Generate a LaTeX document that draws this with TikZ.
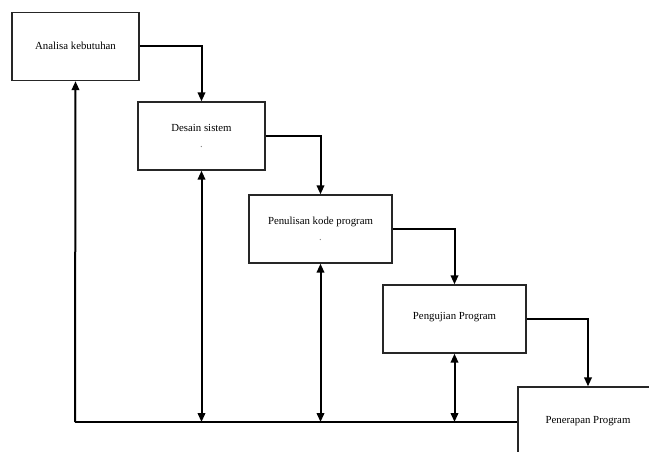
\documentclass[tikz,border=0pt]{standalone}
\usepackage{fontspec}
\setmainfont{Liberation Serif}
\usetikzlibrary{arrows.meta}

\tikzset{
	tahap/.style={draw=black!85, line width=1.3pt, fill=white, minimum width=127pt, minimum height=68pt, inner sep=0pt, align=center, font=\fontsize{10.8}{13}\selectfont},
	alur/.style={line width=2pt, -{Triangle[length=9pt,width=7.5pt]}},
	balik/.style={line width=2pt, {Triangle[length=9pt,width=7.5pt]}-{Triangle[length=9pt,width=7.5pt]}},
}

\begin{document}
\begin{tikzpicture}[x=1pt,y=-1pt]
		\useasboundingbox (0,0) rectangle (649,452);
		\clip (0,0) rectangle (649,452);
		
		\node[tahap] (analisa) at (75.5,46.5) {\raisebox{2pt}{Analisa kebutuhan}};
		\node[tahap] (desain) at (201.5,136) {Desain sistem\\[3pt]{\color{black!50}.}};
		\node[tahap, minimum width=143pt] (penulisan) at (320.5,229) {Penulisan kode program\\[3pt]{\color{black!50}.}};
		\node[tahap, minimum width=143pt] (pengujian) at (454.5,319) {\raisebox{6pt}{Pengujian Program}};
		\node[tahap, minimum width=140pt] (penerapan) at (588,421) {Penerapan Program};
		\coordinate (dasar) at (75,422);
		
		% alur maju
		\draw[alur] (analisa) -| (desain);
		\draw[alur] (desain) -| (penulisan);
		\draw[alur] (penulisan) -| (pengujian);
		\draw[alur] (pengujian) -| (penerapan);
		
		% alur balik
		\draw[line width=2pt] (dasar) -- (penerapan.west |- dasar);
		\draw[alur] (dasar) -- (analisa.south);
		\draw[balik] (desain.south) -- (desain.south |- dasar);
		\draw[balik] (penulisan.south) -- (penulisan.south |- dasar);
		\draw[balik] (pengujian.south) -- (pengujian.south |- dasar);
\end{tikzpicture}
\end{document}
